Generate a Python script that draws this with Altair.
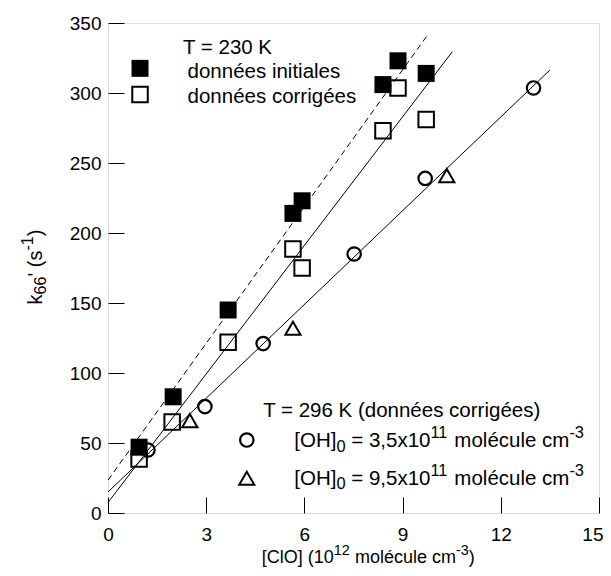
import altair as alt
import pandas as pd

# ---------------- data ----------------
# T = 230 K, initial data (filled squares)
init_x = [0.95, 1.99, 3.67, 5.65, 5.93, 8.40, 8.86, 9.72]
init_y = [47, 83, 145, 214, 223, 306, 323, 314]
# T = 230 K, corrected data (open squares)
corr_x = [0.95, 1.96, 3.67, 5.65, 5.93, 8.40, 8.86, 9.72]
corr_y = [38.6, 65, 122, 188.6, 175, 273, 303.6, 281]
# T = 296 K, [OH]0 = 3.5e11 (circles)
oh35_x = [1.22, 2.96, 4.74, 7.52, 9.69, 13.0]
oh35_y = [45, 76, 121, 185, 239, 303.6]
# T = 296 K, [OH]0 = 9.5e11 (triangles)
oh95_x = [2.50, 5.65, 10.35]
oh95_y = [66, 132, 241]

# fitted straight lines (start / end points)
fit_init_x = [0, 9.75]
fit_init_y = [23.5, 341]
fit_corr_x = [0, 10.52]
fit_corr_y = [7.5, 329.5]
fit_296_x = [0, 13.5]
fit_296_y = [15, 316.4]

x_ticks = [0, 3, 6, 9, 12, 15]
y_ticks = [0, 50, 100, 150, 200, 250, 300, 350]

FONT = "Liberation Sans"
W, H = 491, 490
XD, YD = [0, 15], [0, 350]
XT = (XD[1] - XD[0]) / W   # data units per pixel
YT = (YD[1] - YD[0]) / H

# Arial / Liberation Sans advance widths (1/1000 em)
ADV = {" ": 278, "'": 191, "(": 333, ")": 333, ",": 278, "-": 333, "=": 584,
       "[": 278, "]": 278, "C": 722, "H": 722, "K": 667, "O": 778, "T": 611,
       "a": 556, "c": 500, "d": 556, "e": 556, "é": 556, "g": 556, "i": 222,
       "k": 500, "l": 222, "m": 833, "n": 556, "o": 556, "r": 333, "s": 500,
       "t": 278, "u": 556, "x": 500}


def width(s, fs):
    return sum(ADV.get(c, 556) for c in s) * fs / 1000.0


def rich(segments, x0, y0, size, rotated=False):
    rows = []
    adv = 0.0
    for txt, role in segments:
        fs = size if role == "n" else size * 0.8
        shift = 0.0 if role == "n" else (0.44 * size if role == "sup" else -0.22 * size)
        stripped = txt.strip(" ")
        lead = len(txt) - len(txt.lstrip(" "))
        start = adv + lead * 0.278 * fs
        if stripped:
            if rotated:
                rows.append(dict(x=x0 - shift * XT, y=y0 + start * YT, t=stripped, fs=fs))
            else:
                rows.append(dict(x=x0 + start * XT, y=y0 + shift * YT, t=stripped, fs=fs))
        adv += width(txt, fs)
    return rows


LEG = 20.5
h_rows = []
h_rows += rich([("T = 230 K", "n")], 2.29, 328, LEG)
h_rows += rich([("données initiales", "n")], 2.43, 311, LEG)
h_rows += rich([("données corrigées", "n")], 2.43, 292.6, LEG)
h_rows += rich([("T = 296 K (données corrigées)", "n")], 4.74, 68.3, LEG)
h_rows += rich([("[OH]", "n"), ("0", "sub"), (" = 3,5x10", "n"), ("11", "sup"),
                (" molécule cm", "n"), ("-3", "sup")], 5.69, 47, LEG)
h_rows += rich([("[OH]", "n"), ("0", "sub"), (" = 9,5x10", "n"), ("11", "sup"),
                (" molécule cm", "n"), ("-3", "sup")], 5.69, 20.3, LEG)
h_rows += rich([("[ClO] (10", "n"), ("12", "sup"), (" molécule cm", "n"),
                ("-3", "sup"), (")", "n")], 4.70, -35.7, 18)
v_rows = rich([("k", "n"), ("66", "sub"), ("' (s", "n"), ("-1", "sup"), (")", "n")],
              -2.02, 149, 20, rotated=True)

# legend symbols
leg_fill = pd.DataFrame({"x": [0.978], "y": [317.6]})
leg_open = pd.DataFrame({"x": [0.978], "y": [299.0]})
leg_circ = pd.DataFrame({"x": [4.24], "y": [52.1]})
leg_tri = pd.DataFrame({"x": [4.24], "y": [24.8]})

xscale = alt.Scale(domain=XD, nice=False, zero=False)
yscale = alt.Scale(domain=YD, nice=False, zero=False)
xaxis = alt.Axis(values=x_ticks, offset=-16, tickSize=16, domain=False, title=None,
                 grid=False, labelFont=FONT, labelFontSize=19, labelPadding=12,
                 labelColor="black", tickColor="black", tickWidth=1,
                 labelFlush=False, labelOverlap=False, format="d",
                 labelAlign=alt.expr("datum.value == 15 ? 'right' : 'center'"),
                 labelOffset=alt.expr("datum.value == 15 ? 4 : 0"))
yaxis = alt.Axis(values=y_ticks, offset=-16, tickSize=16, domain=False, title=None,
                 grid=False, labelFont=FONT, labelFontSize=19, labelPadding=7,
                 labelColor="black", tickColor="black", tickWidth=1,
                 labelFlush=False, labelOverlap=False, format="d")


def enc(ch):
    return ch.encode(x=alt.X("x:Q", scale=xscale, axis=xaxis),
                     y=alt.Y("y:Q", scale=yscale, axis=yaxis))


def lines_df(xs, ys):
    return pd.DataFrame({"x": [xs[0]], "y": [ys[0]], "x2": [xs[1]], "y2": [ys[1]]})


dashed = alt.Chart(lines_df(fit_init_x, fit_init_y)).mark_rule(
    color="black", strokeWidth=1, strokeDash=[6, 4]).encode(
    x=alt.X("x:Q", scale=xscale, axis=xaxis), y=alt.Y("y:Q", scale=yscale, axis=yaxis),
    x2="x2:Q", y2="y2:Q")
solid = alt.Chart(pd.concat([lines_df(fit_corr_x, fit_corr_y),
                             lines_df(fit_296_x, fit_296_y)])).mark_rule(
    color="black", strokeWidth=1).encode(
    x=alt.X("x:Q", scale=xscale, axis=xaxis), y=alt.Y("y:Q", scale=yscale, axis=yaxis),
    x2="x2:Q", y2="y2:Q")

df_init = pd.concat([pd.DataFrame({"x": init_x, "y": init_y}), leg_fill])
df_corr = pd.concat([pd.DataFrame({"x": corr_x, "y": corr_y}), leg_open])
df_c = pd.concat([pd.DataFrame({"x": oh35_x, "y": oh35_y}), leg_circ])
df_t = pd.concat([pd.DataFrame({"x": oh95_x, "y": oh95_y}), leg_tri])

filled = enc(alt.Chart(df_init).mark_point(shape="square", filled=True, size=289,
                                           color="black", opacity=1, strokeWidth=0))
opensq = enc(alt.Chart(df_corr).mark_point(shape="square", filled=False, size=240,
                                           color="black", opacity=1, strokeWidth=2))
circ = enc(alt.Chart(df_c).mark_point(shape="circle", filled=False, size=180,
                                      color="black", opacity=1, strokeWidth=2.2))
tri = enc(alt.Chart(df_t).mark_point(shape="triangle-up", filled=False, size=230,
                                     color="black", opacity=1, strokeWidth=2))

htext = alt.Chart(pd.DataFrame(h_rows)).mark_text(
    align="left", baseline="alphabetic", font=FONT, color="black").encode(
    x=alt.X("x:Q", scale=xscale, axis=xaxis), y=alt.Y("y:Q", scale=yscale, axis=yaxis),
    text="t:N", size=alt.Size("fs:Q", scale=None))
vtext = alt.Chart(pd.DataFrame(v_rows)).mark_text(
    align="left", baseline="alphabetic", font=FONT, color="black", angle=270).encode(
    x=alt.X("x:Q", scale=xscale, axis=xaxis), y=alt.Y("y:Q", scale=yscale, axis=yaxis),
    text="t:N", size=alt.Size("fs:Q", scale=None))

chart = alt.layer(dashed, solid, filled, opensq, circ, tri, htext, vtext).properties(
    width=W, height=H,
    autosize=alt.AutoSizeParams(type="none"),
    padding={"left": 100, "top": 15, "right": 4, "bottom": 55},
    background="white",
).configure_view(stroke="black", strokeWidth=1).configure(font=FONT)

chart.save("out.html", embed_options={"renderer": "svg", "actions": False})
